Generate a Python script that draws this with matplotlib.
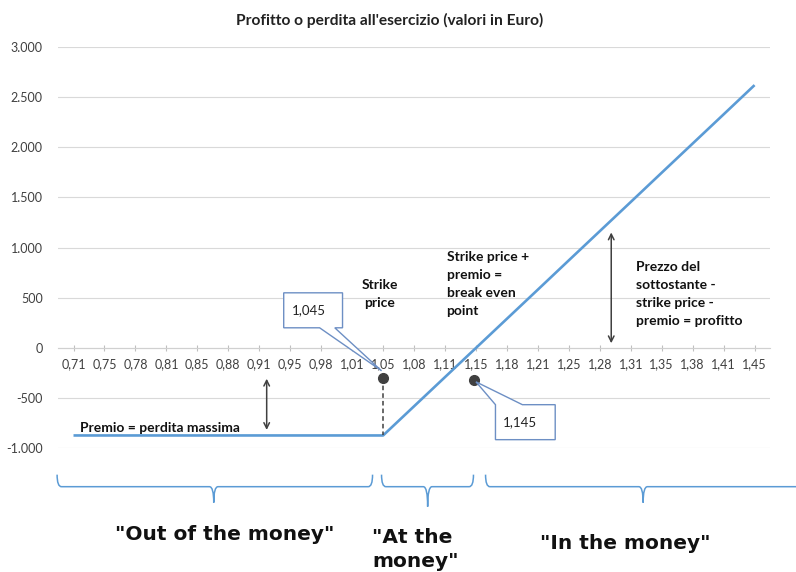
import matplotlib
matplotlib.use("Agg")
import matplotlib.pyplot as plt
from matplotlib.path import Path
from matplotlib.patches import PathPatch, Polygon
from matplotlib.ticker import FuncFormatter

plt.rcParams['font.family'] = ['Lato', 'DejaVu Sans']

# prezzo del sottostante (etichette asse x)
prezzi = ["0,71", "0,75", "0,78", "0,81", "0,85", "0,88", "0,91", "0,95", "0,98", "1,01", "1,05", "1,08",
          "1,11", "1,15", "1,18", "1,21", "1,25", "1,28", "1,31", "1,35", "1,38", "1,41", "1,45"]
# profitto o perdita (Euro)
profitto = [-875, -875, -875, -875, -875, -875, -875, -875, -875, -875, -875, -584,
            -293, -2, 289, 580, 872, 1163, 1454, 1746, 2037, 2328, 2620]
y_ticks = [-1000, -500, 0, 500, 1000, 1500, 2000, 2500, 3000]

strike_pos = 10
strike_lbl = "1,045"
be_pos = 12.95
be_lbl = "1,145"

blu = "#5b9bd5"
grigio = "#404040"
bordo = "#6d8fc4"

fig = plt.figure(figsize=(7.96, 5.72), dpi=100)
ax = fig.add_axes([0.0729, 0.2168, 0.8945, 0.701])

x = list(range(len(prezzi)))
ax.plot(x, profitto, color=blu, lw=1.9, zorder=3, solid_capstyle='butt')

ax.set_xlim(-0.5, len(prezzi) - 0.5)
ax.set_ylim(-1000, 3000)
ax.set_yticks(y_ticks)
ax.yaxis.set_major_formatter(FuncFormatter(lambda v, p: "{:,.0f}".format(v).replace(",", ".")))
ax.grid(axis='y', color="#d9d9d9", lw=0.8)
ax.set_axisbelow(True)
for s in ['left', 'right', 'top']:
    ax.spines[s].set_visible(False)
ax.spines['bottom'].set_position(('data', 0))
ax.spines['bottom'].set_color("#d0d0d0")
ax.set_xticks(x)
ax.set_xticklabels(prezzi)
ax.tick_params(axis='x', direction='inout', length=5, color="#bfbfbf", labelsize=9, labelcolor=grigio, pad=5)
ax.tick_params(axis='y', length=0, labelsize=9, labelcolor=grigio, pad=11)

fig.text(390 / 796, 1 - 20 / 572, "Profitto o perdita all'esercizio (valori in Euro)", fontsize=11.2,
         fontweight='bold', color='#222222', ha='center', va='center')

# punti strike e break even
ax.plot([strike_pos, strike_pos], [-300, profitto[strike_pos]], color=grigio, lw=1.1, ls=(0, (3, 2)), zorder=4)
ax.plot([strike_pos, be_pos], [-300, -320], 'o', color=grigio, ms=7, zorder=5, ls='none')

# callout
def callout(x0, x1, y0, y1, base, tip, testo, lato):
    if lato == 'bottom':
        verts = [(x0, y1), (x1, y1), (x1, y0), (base[1], y0), tip, (base[0], y0), (x0, y0)]
    else:
        verts = [(x0, y1), (base[0], y1), tip, (base[1], y1), (x1, y1), (x1, y0), (x0, y0)]
    ax.add_patch(Polygon(verts, closed=True, fc='white', ec=bordo, lw=1, zorder=6, clip_on=False))
    ax.text(x0 + 0.25, (y0 + y1) / 2, testo, fontsize=9.5, color='#222222', va='center', ha='left', zorder=7)

callout(6.79, 8.69, 199, 548, (7.95, 8.44), (strike_pos - 0.05, -230), strike_lbl, 'bottom')
callout(13.63, 15.56, -917, -568, (13.63, 14.5), (be_pos + 0.05, -340), be_lbl, 'top')

# frecce
ax.annotate("", xy=(6.24, -309), xytext=(6.24, -820),
            arrowprops=dict(arrowstyle='<->', color=grigio, lw=1.1, shrinkA=0, shrinkB=0))
ax.annotate("", xy=(17.37, 1150), xytext=(17.37, 45),
            arrowprops=dict(arrowstyle='<->', color=grigio, lw=1.1, shrinkA=0, shrinkB=0))

# testi
kw = dict(fontsize=10, fontweight='bold', color='#111111', zorder=7, linespacing=1.6)
ax.text(0.21, -840, "Premio = perdita massima", ha='left', va='baseline', **kw)
ax.text(9.89, 690, "Strike\nprice", ha='center', va='top', **kw)
ax.text(12.05, 970, "Strike price +\npremio =\nbreak even\npoint", ha='left', va='top', **kw)
ax.text(18.18, 870, "Prezzo del\nsottostante -\nstrike price -\npremio = profitto", ha='left', va='top', **kw)

# parentesi graffe
def graffa(x0, x1, xm, ytop, ymid, ytip, d=0.14):
    verts = [(x0, ytop), (x0, ymid), (x0 + d, ymid), (xm - d, ymid), (xm, ymid), (xm, ytip),
             (xm, ymid), (xm + d, ymid), (x1 - d, ymid), (x1, ymid), (x1, ytop)]
    codes = [Path.MOVETO, Path.CURVE3, Path.CURVE3, Path.LINETO, Path.CURVE3, Path.CURVE3,
             Path.CURVE3, Path.CURVE3, Path.LINETO, Path.CURVE3, Path.CURVE3]
    ax.add_patch(PathPatch(Path(verts, codes), fill=False, ec=blu, lw=1.1, clip_on=False))

graffa(-0.53, 9.66, 4.53, -1266, -1386, -1545)
graffa(9.95, 12.92, 11.44, -1266, -1386, -1585)
graffa(13.31, 24.5, 18.4, -1266, -1386, -1545)

kb = dict(fontsize=14.5, fontweight='bold', color='#111111', va='baseline', family='DejaVu Sans')
ax.text(4.87, -1914, '"Out of the money"', ha='center', **kb)
ax.text(9.65, -1944, '"At the', ha='left', **kb)
ax.text(9.65, -2190, 'money"', ha='left', **kb)
ax.text(17.82, -2004, '"In the money"', ha='center', **kb)

fig.savefig("out.png", dpi=100)
